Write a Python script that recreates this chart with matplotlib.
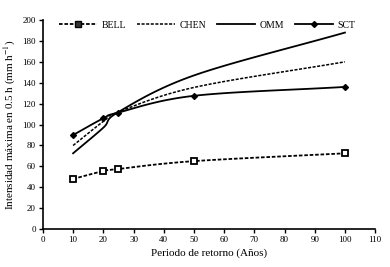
import numpy as np
import matplotlib
matplotlib.use("Agg")
import matplotlib.pyplot as plt

plt.rcParams["font.family"] = ["Liberation Serif", "DejaVu Serif"]
plt.rcParams["mathtext.fontset"] = "stix"

periods = [10, 20, 25, 50, 100]
bell = [48, 55.5, 57.5, 65, 72.5]
chen = [80, 103, 112, 135.5, 160]
omm = [72.5, 97, 112, 147, 188]
sct = [90, 106, 111.5, 127.5, 136]


def smooth(x, y, n=20):
    # Excel-style smoothed line (Catmull-Rom through the points)
    x = np.asarray(x, float)
    y = np.asarray(y, float)
    px = np.concatenate([[2 * x[0] - x[1]], x, [2 * x[-1] - x[-2]]])
    py = np.concatenate([[2 * y[0] - y[1]], y, [2 * y[-1] - y[-2]]])
    xs, ys = [], []
    t = np.linspace(0, 1, n)
    for i in range(1, len(px) - 2):
        p0, p1, p2, p3 = [np.array([px[j], py[j]]) for j in range(i - 1, i + 3)]
        b1 = p1 + (p2 - p0) / 6
        b2 = p2 - (p3 - p1) / 6
        pts = ((1 - t) ** 3)[:, None] * p1 + (3 * (1 - t) ** 2 * t)[:, None] * b1 \
            + (3 * (1 - t) * t ** 2)[:, None] * b2 + (t ** 3)[:, None] * p2
        xs.extend(pts[:, 0])
        ys.extend(pts[:, 1])
    return xs, ys


fig = plt.figure(figsize=(3.9, 2.67), dpi=100)
ax = fig.add_axes([0.110, 0.142, 0.852, 0.783])

ax.plot(*smooth(periods, bell), color="black", lw=1.3, ls=(0, (2, 1)))
ax.plot(periods, bell, ls="none", marker="s", ms=4.5, mfc="white", mec="black", mew=1.3)
ax.plot(*smooth(periods, chen), color="black", lw=1.1, ls=(0, (2, 1)))
ax.plot(*smooth(periods, omm), color="black", lw=1.3)
ax.plot(*smooth(periods, sct), color="black", lw=1.3)
ax.plot(periods, sct, ls="none", marker="D", ms=3, color="black")

# legend handles
h_bell, = ax.plot([], [], color="black", lw=1.3, ls=(0, (2, 1)), marker="s", ms=4, mfc="#333333", mec="black")
h_chen, = ax.plot([], [], color="black", lw=1.1, ls=(0, (2, 1)))
h_omm, = ax.plot([], [], color="black", lw=1.3)
h_sct, = ax.plot([], [], color="black", lw=1.3, marker="D", ms=3)
ax.legend([h_bell, h_chen, h_omm, h_sct], ["BELL", "CHEN", "OMM", "SCT"],
          loc="upper left", bbox_to_anchor=(0.03, 1.025), ncol=4, frameon=False,
          fontsize=7, handlelength=3.9, columnspacing=1.1, handletextpad=0.5,
          borderaxespad=0.2)

ax.set_xlim(0, 110)
ax.set_ylim(0, 200)
ax.set_xticks(np.arange(0, 111, 10))
ax.set_yticks(np.arange(0, 201, 20))
ax.tick_params(direction="out", length=3, width=1, labelsize=6.5, pad=2)
ax.spines["top"].set_visible(False)
ax.spines["right"].set_visible(False)
ax.spines["left"].set_linewidth(1.2)
ax.spines["bottom"].set_linewidth(1.2)
ax.set_xlabel("Periodo de retorno (Años)", fontsize=8, labelpad=3)
ax.set_ylabel(r"Intensidad máxima en 0.5 h (mm h$^{-1}$)", fontsize=8, labelpad=3)

fig.savefig("out.png", dpi=100)
